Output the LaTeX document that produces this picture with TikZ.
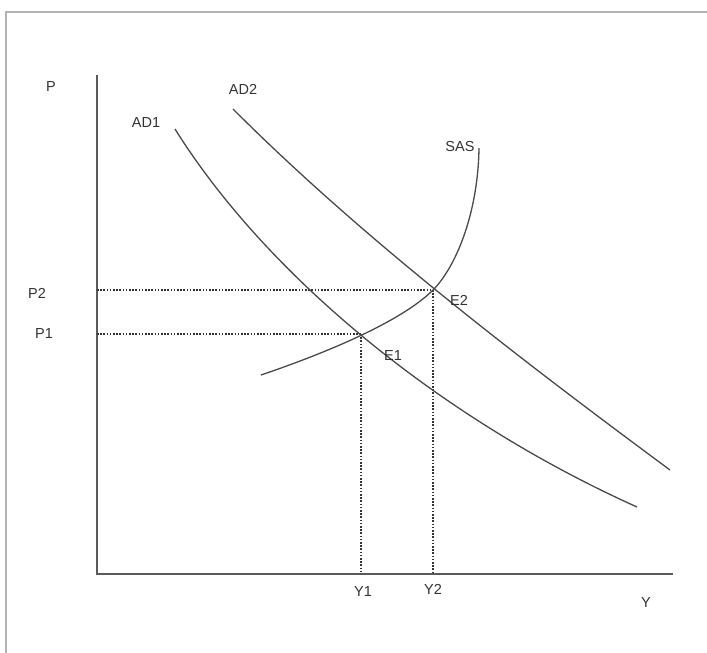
\documentclass[tikz,border=0pt]{standalone}
\usepackage{fontspec}
\setmainfont{Liberation Sans}
\definecolor{framegray}{HTML}{B4B4B4}
\definecolor{axisgray}{HTML}{5A5A5A}
\definecolor{curvegray}{HTML}{4A4A4A}
\definecolor{guidegray}{HTML}{333333}
\definecolor{textgray}{HTML}{333333}
\begin{document}
\begin{tikzpicture}[x=1pt,y=-1pt,
  lbl/.style={text=textgray,font=\fontsize{14.5}{16}\selectfont,inner sep=0pt},
  axisline/.style={draw=axisgray,line width=1.8pt},
  curve/.style={draw=curvegray,line width=1.3pt},
  guide/.style={draw=guidegray,line width=2.4pt,dash pattern=on 1.6pt off 1.6pt}]
\useasboundingbox (0,0) rectangle (707,653);
\fill[white] (0,0) rectangle (707,653);
% frame
\draw[framegray,line width=1.5pt] (6,653) -- (6,12) -- (707,12);
% axes
\coordinate (top) at (97,75);
\coordinate (O) at (97,574);
\coordinate (right) at (673,574);
\draw[axisline] (top) -- (O) -- (right);
% equilibria
\coordinate (E1pt) at (361,334);
\coordinate (E2pt) at (433,290);
\coordinate (p1) at (97,334);
\coordinate (p2) at (97,290);
\coordinate (y1) at (361,574);
\coordinate (y2) at (433,574);
% guides
\draw[guide] (p2) -- (E2pt);
\draw[guide] (p1) -- (E1pt);
\draw[guide] (E1pt) -- (y1);
\draw[guide] (E2pt) -- (y2);
% curves
\coordinate (ad1s) at (175,129);
\coordinate (ad1e) at (637,507);
\coordinate (ad2s) at (233,109);
\coordinate (ad2e) at (670,470);
\coordinate (sass) at (261,375);
\coordinate (sase) at (479,148);
\draw[curve] (ad1s) .. controls (265,273) and (437,417) .. (ad1e);
\draw[curve] (ad2s) .. controls (363,239) and (520,359) .. (ad2e);
\draw[curve] (sass) .. controls (320,355) and (400,323) .. (E2pt)
                    .. controls (455,268) and (478,215) .. (sase);
% labels
\node[lbl] (P) at (51,87) {P};
\node[lbl] (AD2) at (243,89) {AD2};
\node[lbl] (AD1) at (146,123) {AD1};
\node[lbl] (SAS) at (460,147) {SAS};
\node[lbl] (P2) at (37,293) {P2};
\node[lbl] (P1) at (44,334) {P1};
\node[lbl] (E2) at (459,300) {E2};
\node[lbl] (E1) at (393,356) {E1};
\node[lbl] (Y1) at (363,592) {Y1};
\node[lbl] (Y2) at (433,589) {Y2};
\node[lbl] (Y) at (646,603) {Y};
\end{tikzpicture}
\end{document}
